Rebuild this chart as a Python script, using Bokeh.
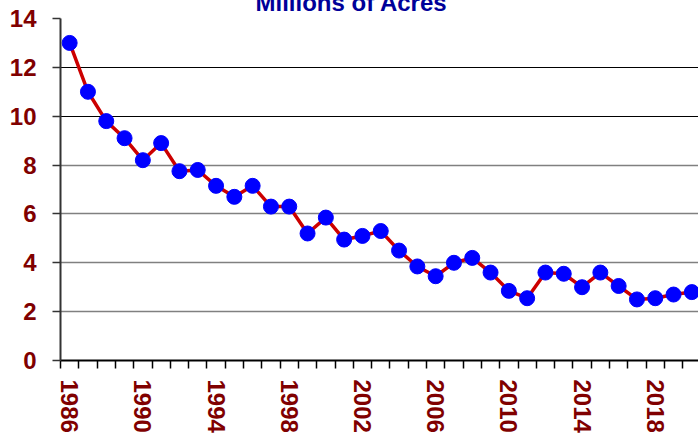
from bokeh.plotting import figure
from bokeh.models import FixedTicker, Grid, Range1d, ColumnDataSource
from bokeh.embed import file_html
from bokeh.resources import INLINE

years = list(range(1986, 2021))
acres = [13.0, 11.0, 9.8, 9.1, 8.2, 8.9, 7.75, 7.8, 7.15, 6.7, 7.15, 6.3, 6.3,
         5.2, 5.85, 4.95, 5.1, 5.3, 4.5, 3.85, 3.45, 4.0, 4.2, 3.6, 2.85, 2.55,
         3.6, 3.55, 3.0, 3.6, 3.05, 2.5, 2.55, 2.7, 2.8]
label_years = years[:33:4]
y_ticks = [0, 2, 4, 6, 8, 10, 12, 14]
title_text = "Millions of Acres"

src = ColumnDataSource(dict(x=years, y=acres))

HIDE = 30  # part of the top border pushed above the window

p = figure(frame_width=638, frame_height=342, output_backend="svg",
           toolbar_location=None, min_border_left=60, min_border_right=0,
           min_border_top=18 + HIDE, min_border_bottom=73,
           x_range=Range1d(years[0] - 0.5, years[0] - 0.5 + 638 / 18.3),
           y_range=Range1d(0, 14),
           styles={"margin-top": f"-{HIDE}px"})
p.outline_line_color = None
p.background_fill_color = "white"
p.border_fill_color = "white"

p.title.text = title_text
p.title.align = "left"
p.title.offset = 195
p.title.standoff = 6
p.title.vertical_align = "bottom"
p.title.text_font = "Liberation Sans"
p.title.text_font_style = "bold"
p.title.text_font_size = "24px"
p.title.text_color = "#000099"

# grids
p.xgrid.grid_line_color = None
p.ygrid.grid_line_color = None
p.add_layout(Grid(dimension=1, ticker=FixedTicker(ticks=[10, 12, 14]),
                  grid_line_color="black", grid_line_width=1))
p.add_layout(Grid(dimension=1, ticker=FixedTicker(ticks=[2, 4, 6, 8]),
                  grid_line_color="#808080", grid_line_width=1.5))

# x axis
p.xaxis.ticker = FixedTicker(ticks=label_years,
                             minor_ticks=[y - 0.5 for y in years] + [years[-1] + 0.5])
p.xaxis.major_tick_out = 0
p.xaxis.major_tick_in = 0
p.xaxis.minor_tick_out = 8
p.xaxis.minor_tick_in = 0
p.xaxis.minor_tick_line_color = "black"
p.xaxis.minor_tick_line_width = 1.5
p.xaxis.axis_line_color = "black"
p.xaxis.axis_line_width = 2
p.xaxis.major_label_orientation = "vertical"
p.xaxis.major_label_standoff = 11
p.xaxis.major_label_text_font = "Liberation Sans"
p.xaxis.major_label_text_font_style = "bold"
p.xaxis.major_label_text_font_size = "24px"
p.xaxis.major_label_text_color = "#800000"

# y axis
p.yaxis.ticker = FixedTicker(ticks=y_ticks)
p.yaxis.major_tick_out = 8
p.yaxis.major_tick_in = 0
p.yaxis.minor_tick_out = 0
p.yaxis.minor_tick_in = 0
p.yaxis.major_tick_line_color = "#333333"
p.yaxis.major_tick_line_width = 1.5
p.yaxis.axis_line_color = "#333333"
p.yaxis.axis_line_width = 2
p.yaxis.major_label_standoff = 16
p.yaxis.major_label_text_font = "Liberation Sans"
p.yaxis.major_label_text_font_style = "bold"
p.yaxis.major_label_text_font_size = "24px"
p.yaxis.major_label_text_color = "#800000"

p.line("x", "y", source=src, line_color="#CC0000", line_width=3.5)
p.scatter("x", "y", source=src, size=15, fill_color="#0000FF", line_color="#0000FF")

open("out.html", "w").write(file_html(p, INLINE))
